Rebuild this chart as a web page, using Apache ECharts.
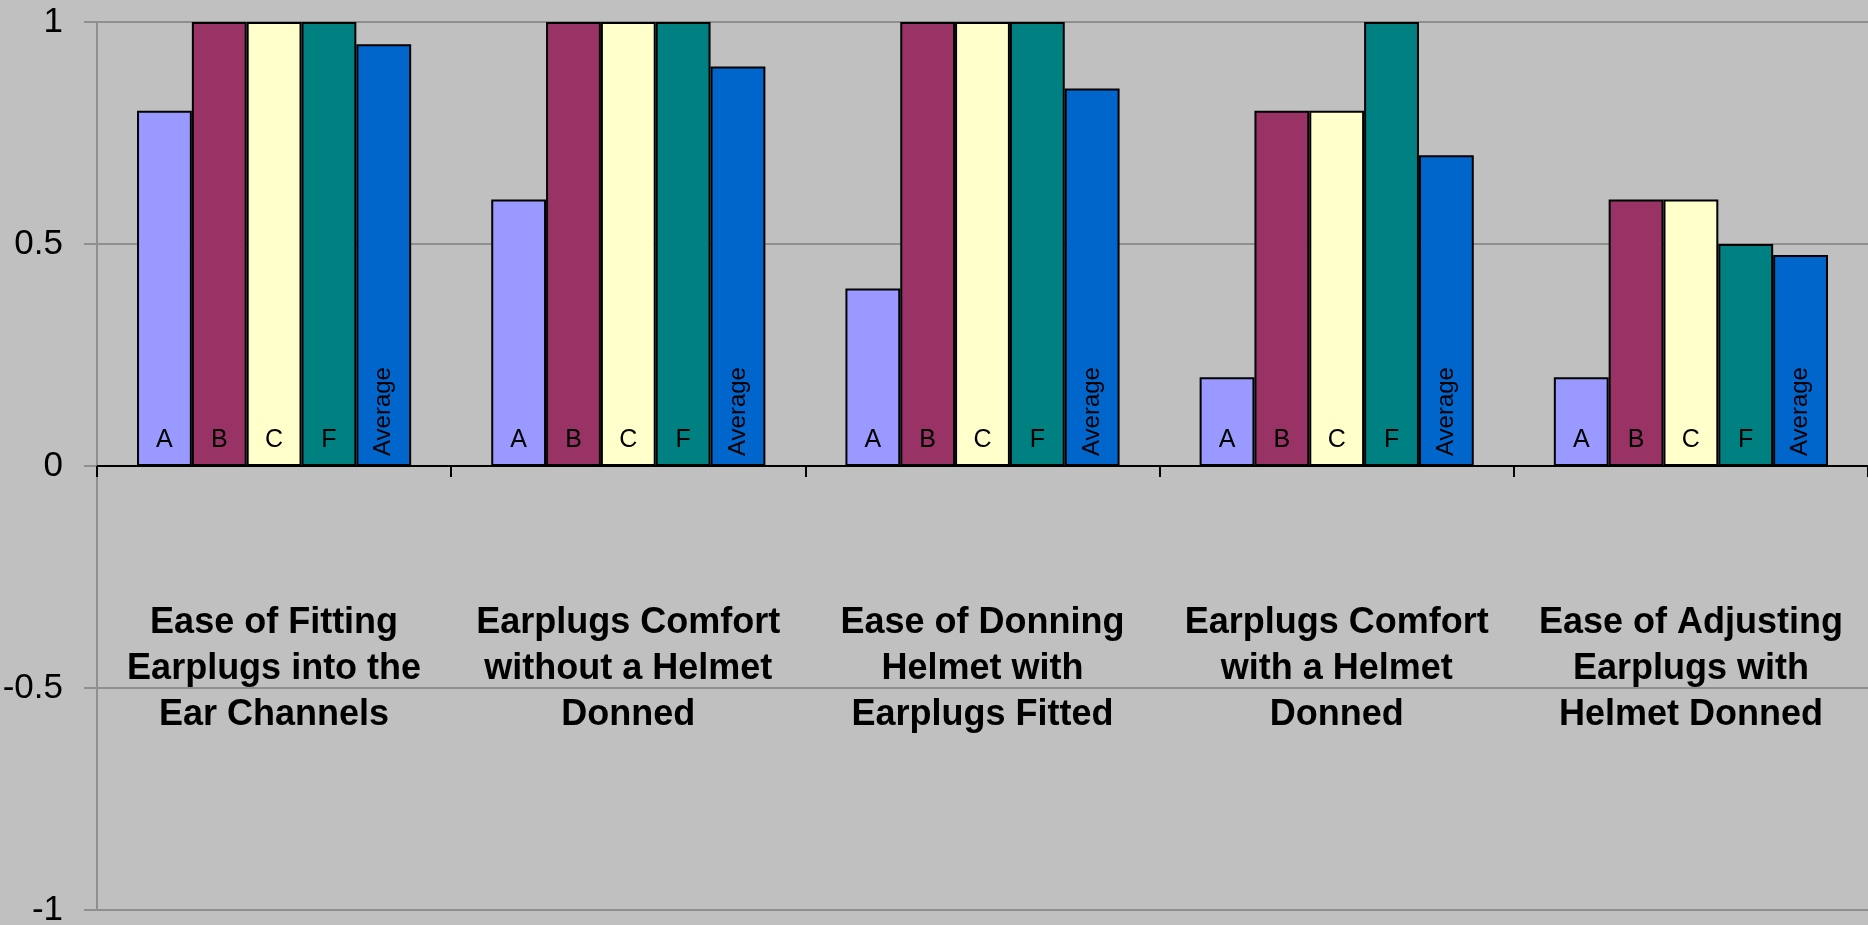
<!DOCTYPE html>
<html>
<head>
<meta charset="utf-8">
<script src="https://cdn.jsdelivr.net/npm/echarts@6/dist/echarts.min.js"></script>
<style>
html, body { margin:0; padding:0; background:#c0c0c0; }
#main { width:1868px; height:925px; }
</style>
</head>
<body>
<div id="main"></div>
<script>
var categories = [
    "Ease of Fitting\nEarplugs into the\nEar Channels",
    "Earplugs Comfort\nwithout a Helmet\nDonned",
    "Ease of Donning\nHelmet with\nEarplugs Fitted",
    "Earplugs Comfort\nwith a Helmet\nDonned",
    "Ease of Adjusting\nEarplugs with\nHelmet Donned"
];
var seriesNames = ["A", "B", "C", "F", "Average"];
var valuesA = [0.8, 0.6, 0.4, 0.2, 0.2];
var valuesB = [1, 1, 1, 0.8, 0.6];
var valuesC = [1, 1, 1, 0.8, 0.6];
var valuesF = [1, 1, 1, 1, 0.5];
var valuesAvg = [0.95, 0.9, 0.85, 0.7, 0.475];
var colors = ["#9999ff", "#993366", "#ffffcc", "#008080", "#0066cc"];

var font = "'Liberation Sans', Arial, sans-serif";
var allValues = [valuesA, valuesB, valuesC, valuesF, valuesAvg];

var series = [];
for (var i = 0; i < seriesNames.length; i++) {
    var isAvg = seriesNames[i] == "Average";
    var label = {
        show: true,
        formatter: '{a}',
        position: 'insideBottom',
        color: '#000',
        fontFamily: font,
        fontSize: 25
    };
    if (isAvg) {
        // rotated, reads bottom to top
        label.rotate = 90;
        label.align = 'left';
        label.verticalAlign = 'middle';
        label.distance = 10;
        label.fontSize = 24;
    } else {
        label.distance = 13;
    }
    series.push({
        name: seriesNames[i],
        type: 'bar',
        data: allValues[i],
        barGap: '0%',
        barCategoryGap: '22.6%',
        itemStyle: { color: colors[i], borderColor: '#000', borderWidth: 2 },
        label: label,
        emphasis: { disabled: true }
    });
}

var myChart = echarts.init(document.getElementById('main'));
myChart.setOption({
    backgroundColor: '#c0c0c0',
    animation: false,
    grid: { left: 97, right: 0, top: 22, bottom: 15, containLabel: false, outerBoundsMode: 'none' },
    xAxis: {
        type: 'category',
        data: categories,
        axisLine: { onZero: true, lineStyle: { color: '#000', width: 2 } },
        axisTick: { show: true, interval: 0, length: 11, lineStyle: { color: '#000', width: 2 } },
        axisLabel: {
            interval: 0,
            margin: -310,
            color: '#000',
            fontFamily: font,
            fontWeight: 'bold',
            fontSize: 36,
            lineHeight: 46
        }
    },
    yAxis: {
        type: 'value',
        min: -1,
        max: 1,
        interval: 0.5,
        axisLine: { show: true, lineStyle: { color: '#8f8f8f', width: 2 } },
        axisTick: { show: true, length: 13, lineStyle: { color: '#8f8f8f', width: 2 } },
        splitLine: { lineStyle: { color: '#8f8f8f', width: 2 } },
        axisLabel: {
            margin: 34,
            color: '#000',
            fontFamily: font,
            fontSize: 35
        }
    },
    series: series
});
</script>
</body>
</html>
